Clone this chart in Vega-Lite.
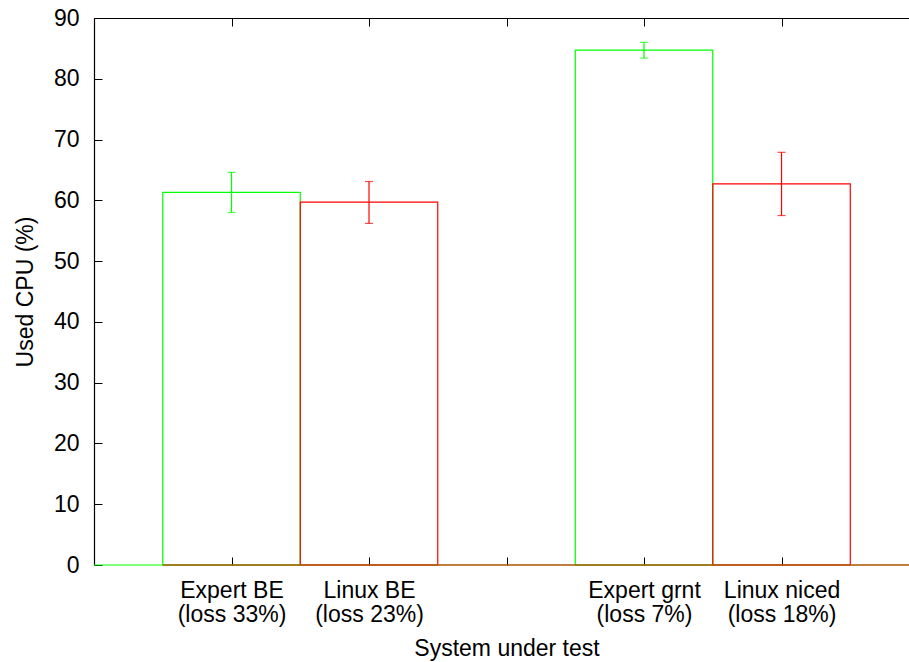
{
  "$schema": "https://vega.github.io/schema/vega-lite/v6.json",
  "width": 815,
  "height": 547,
  "autosize": {"type": "none"},
  "padding": {"left": 94, "top": 18, "right": 0, "bottom": 97},
  "background": "white",
  "config": {
    "view": {"stroke": null},
    "font": "Liberation Sans",
    "axis": {
      "grid": false,
      "domainColor": "#000000",
      "domainWidth": 1.2,
      "tickColor": "#000000",
      "tickWidth": 1,
      "tickSize": -8,
      "labelColor": "#000000",
      "labelFontSize": 23,
      "labelFont": "Liberation Sans",
      "titleColor": "#000000",
      "titleFontSize": 23,
      "titleFontWeight": "normal",
      "titleFont": "Liberation Sans"
    }
  },
  "datasets": {
    "cpu": [
      {"system": "Expert BE", "pos": 1, "series": "Expert", "cpu": 61.3, "lo": 58.0, "hi": 64.6},
      {"system": "Expert grnt", "pos": 4, "series": "Expert", "cpu": 84.7, "lo": 83.4, "hi": 86.0},
      {"system": "Linux BE", "pos": 2, "series": "Linux", "cpu": 59.7, "lo": 56.2, "hi": 63.1},
      {"system": "Linux niced", "pos": 5, "series": "Linux", "cpu": 62.7, "lo": 57.5, "hi": 67.9}
    ]
  },
  "resolve": {"axis": {"x": "independent", "y": "independent"}},
  "layer": [
    {
      "data": {"name": "cpu"},
      "mark": {"type": "bar", "filled": false, "width": 137.5, "strokeWidth": 1.2},
      "encoding": {
        "x": {
          "field": "pos",
          "type": "quantitative",
          "scale": {"domain": [0, 5.927], "nice": false, "zero": false, "padding": 0},
          "axis": {
            "orient": "bottom",
            "title": "System under test",
            "titleX": 412.5,
            "titlePadding": 11,
            "values": [1, 2, 3, 4, 5],
            "domain": false,
            "labelPadding": 22.6,
            "labelLineHeight": 23.5,
            "labelExpr": "datum.value == 1 ? ['Expert BE', '(loss 33%)'] : datum.value == 2 ? ['Linux BE', '(loss 23%)'] : datum.value == 4 ? ['Expert grnt', '(loss 7%)'] : datum.value == 5 ? ['Linux niced', '(loss 18%)'] : ''"
          }
        },
        "y": {
          "field": "cpu",
          "type": "quantitative",
          "scale": {"domain": [0, 90], "nice": false},
          "axis": {
            "title": "Used CPU (%)",
            "values": [0, 10, 20, 30, 40, 50, 60, 70, 80, 90],
            "labelPadding": 23,
            "titlePadding": 16
          }
        },
        "color": {
          "field": "series",
          "type": "nominal",
          "scale": {"domain": ["Expert", "Linux"], "range": ["#00ff00", "#ff0000"]},
          "legend": null
        }
      }
    },
    {
      "data": {"name": "cpu"},
      "mark": {"type": "rule", "strokeWidth": 1.2},
      "encoding": {
        "x": {"field": "pos", "type": "quantitative", "axis": null},
        "y": {"field": "lo", "type": "quantitative", "axis": null},
        "y2": {"field": "hi"},
        "color": {"field": "series", "type": "nominal", "legend": null}
      }
    },
    {
      "data": {"name": "cpu"},
      "mark": {"type": "tick", "orient": "horizontal", "size": 8, "thickness": 1.2},
      "encoding": {
        "x": {"field": "pos", "type": "quantitative", "axis": null},
        "y": {"field": "lo", "type": "quantitative", "axis": null},
        "color": {"field": "series", "type": "nominal", "legend": null}
      }
    },
    {
      "data": {"name": "cpu"},
      "mark": {"type": "tick", "orient": "horizontal", "size": 8, "thickness": 1.2},
      "encoding": {
        "x": {"field": "pos", "type": "quantitative", "axis": null},
        "y": {"field": "hi", "type": "quantitative", "axis": null},
        "color": {"field": "series", "type": "nominal", "legend": null}
      }
    },
    {
      "data": {"values": [{}]},
      "mark": {"type": "rule", "color": "#00ff00", "strokeWidth": 1.2},
      "encoding": {
        "x": {"datum": 0, "type": "quantitative", "axis": null},
        "x2": {"datum": 5.927},
        "y": {"datum": 0, "type": "quantitative", "axis": null}
      }
    },
    {
      "data": {"values": [{}]},
      "mark": {"type": "rule", "color": "#ff0000", "strokeWidth": 1.2},
      "encoding": {
        "x": {"datum": 0.5, "type": "quantitative", "axis": null},
        "x2": {"datum": 5.927},
        "y": {"datum": 0, "type": "quantitative", "axis": null}
      }
    },
    {
      "data": {"values": [{}]},
      "mark": {"type": "rule", "strokeOpacity": 0},
      "encoding": {
        "x": {
          "datum": 0,
          "type": "quantitative",
          "axis": {"orient": "top", "title": null, "labels": false, "values": [1, 2, 3, 4, 5], "domain": true}
        },
        "y": {"datum": 90, "type": "quantitative", "axis": null}
      }
    }
  ]
}
